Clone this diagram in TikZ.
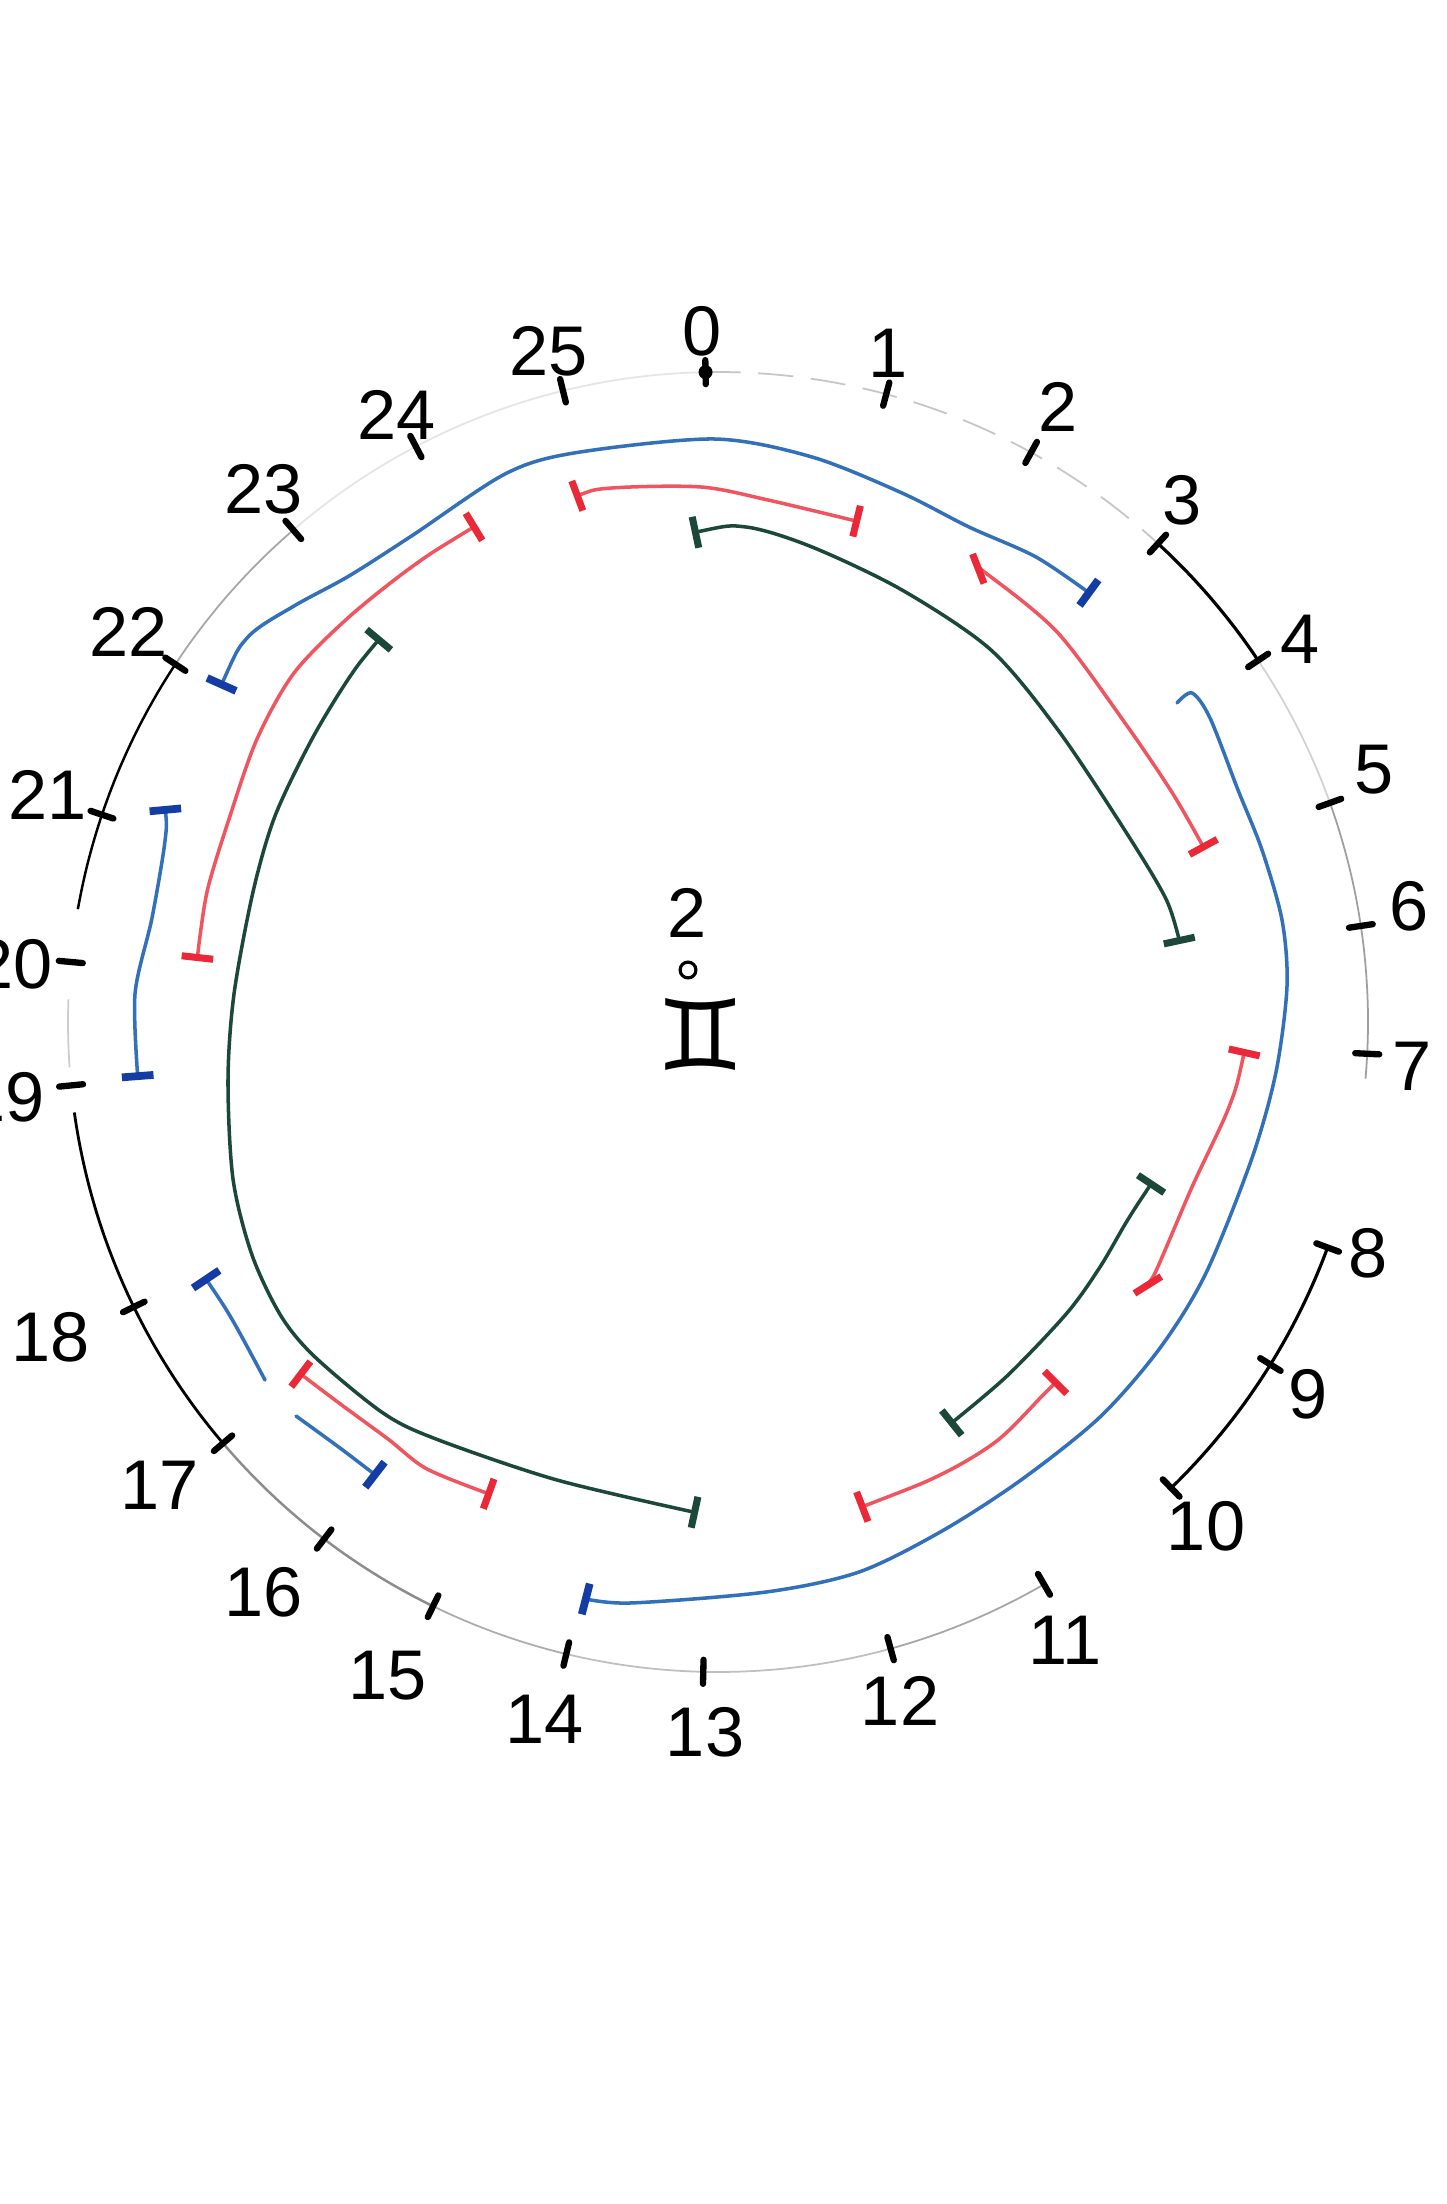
\documentclass[tikz,border=0pt]{standalone}
\usepackage{fontspec}
\setmainfont{Liberation Sans}
\newfontfamily\symfont{DejaVu Sans}
\usetikzlibrary{arrows.meta,calc}
\definecolor{bluepen}{RGB}{50,112,185}
\definecolor{bluetip}{RGB}{20,60,165}
\definecolor{redpen}{RGB}{240,85,95}
\definecolor{redtip}{RGB}{235,40,55}
\definecolor{greenpen}{RGB}{28,72,58}
\begin{document}
\begin{tikzpicture}[x=0.01cm,y=-0.01cm,
  lbl/.style={font=\fontsize{20}{24}\selectfont, inner sep=0pt},
  tickmark/.style={line width=1.8pt, line cap=round},
  pen/.style={line width=1pt, line cap=round, line join=round},
  bpen/.style={pen, bluepen, {Bar[width=9pt,line width=2.2pt,color=bluetip]}-{Bar[width=9pt,line width=2.2pt,color=bluetip]}},
  rpen/.style={pen, redpen, {Bar[width=9pt,line width=2pt,color=redtip]}-{Bar[width=9pt,line width=2pt,color=redtip]}},
  gpen/.style={pen, greenpen, {Bar[width=9pt,line width=2pt]}-{Bar[width=9pt,line width=2pt]}},
  ring/.style={line width=0.5pt, gray!60},
  ringdark/.style={line width=0.9pt, black}]
\useasboundingbox (0,0) rectangle (1446,2204);
\fill[white] (0,0) rectangle (1446,2204);
\coordinate (C) at (718,1022);

% outer ring segments
\draw[ring, gray!45, dash pattern=on 10pt off 5pt] plot[domain=-91.1:-47.4,samples=40,smooth] ({718+650*cos(\x)},{1022+650*sin(\x)});
\draw[ringdark] plot[domain=-47.4:-33.8,samples=20,smooth] ({718+650*cos(\x)},{1022+650*sin(\x)});
\draw[ring, gray!35] plot[domain=-33.8:-19.7,samples=20,smooth] ({718+650*cos(\x)},{1022+650*sin(\x)});
\draw[ring, gray!75] plot[domain=-19.7:5,samples=30,smooth] ({718+650*cos(\x)},{1022+650*sin(\x)});
\draw[ringdark] plot[domain=20.3:45.8,samples=30,smooth] ({718+650*cos(\x)},{1022+650*sin(\x)});
\draw[ring, gray!70] plot[domain=59.9:74.6,samples=20,smooth] ({718+650*cos(\x)},{1022+650*sin(\x)});
\draw[ring, gray!50] plot[domain=74.6:103.5,samples=30,smooth] ({718+650*cos(\x)},{1022+650*sin(\x)});
\draw[ring, gray!65] plot[domain=103.5:116,samples=20,smooth] ({718+650*cos(\x)},{1022+650*sin(\x)});
\draw[ring, gray!90, line width=0.7pt] plot[domain=116:139.6,samples=30,smooth] ({718+650*cos(\x)},{1022+650*sin(\x)});
\draw[ringdark, line width=0.8pt] plot[domain=139.6:172,samples=30,smooth] ({718+650*cos(\x)},{1022+650*sin(\x)});
\draw[ring, gray!40] plot[domain=176:182,samples=10,smooth] ({718+650*cos(\x)},{1022+650*sin(\x)});
\draw[ringdark, line width=0.7pt] plot[domain=190:213.4,samples=30,smooth] ({718+650*cos(\x)},{1022+650*sin(\x)});
\draw[ring, gray!70] plot[domain=213.4:229.2,samples=20,smooth] ({718+650*cos(\x)},{1022+650*sin(\x)});
\draw[ring, gray!20] plot[domain=229.2:268.9,samples=30,smooth] ({718+650*cos(\x)},{1022+650*sin(\x)});

% ticks
\foreach \n/\a in {0/-91.1,1/-75,2/-61.2,3/-47.4,4/-33.8,5/-19.7,6/-8.5,7/2.8,8/20.3,9/31.8,10/45.8,11/59.9,12/74.6,13/91.3,14/103.5,15/116,16/127.3,17/139.6,18/154,19/174.4,20/185.3,21/198.6,22/213.4,23/229.2,24/242.3,25/256.2}{
  \coordinate (t\n) at ($(C)+(\a:650)$);
  \draw[tickmark] ($(C)+(\a:638)$) -- ($(C)+(\a:662)$);
}
\fill (t0) circle (7);

% labels
\node[lbl] (l0) at (702,331) {0};
\node[lbl] (l1) at (888,353) {1};
\node[lbl] (l2) at (1058,407) {2};
\node[lbl] (l3) at (1182,500) {3};
\node[lbl] (l4) at (1300,639) {4};
\node[lbl] (l5) at (1374,770) {5};
\node[lbl] (l6) at (1409,906) {6};
\node[lbl] (l7) at (1412,1066) {7};
\node[lbl] (l8) at (1368,1253) {8};
\node[lbl] (l9) at (1308,1394) {9};
\node[lbl] (l10) at (1206,1526) {10};
\node[lbl] (l11) at (1065,1640) {11};
\node[lbl] (l12) at (900,1701) {12};
\node[lbl] (l13) at (705,1732) {13};
\node[lbl] (l14) at (545,1719) {14};
\node[lbl] (l15) at (388,1676) {15};
\node[lbl] (l16) at (264,1592) {16};
\node[lbl] (l17) at (160,1485) {17};
\node[lbl] (l18) at (51,1337) {18};
\node[lbl] (l19) at (6,1097) {19};
\node[lbl] (l20) at (14,964) {20};
\node[lbl] (l21) at (48,795) {21};
\node[lbl] (l22) at (129,632) {22};
\node[lbl] (l23) at (264,489) {23};
\node[lbl] (l24) at (397,415) {24};
\node[lbl] (l25) at (549,351) {25};

% centre
\node[lbl] (ctwo) at (687,913) {2};
\node[circle, draw, line width=0.9pt, inner sep=0pt, minimum size=4.5pt] (ccirc) at (688,970) {};
\node[inner sep=0pt, font=\symfont\fontsize{28}{30}\selectfont] (cgem) at (701,1034) {♊};

% blue
\draw[bpen] plot[smooth] coordinates {(220,688)(248,637)(294,606)(349,576)(413,535)(505,474)(574,453)(714,439)(812,457)(902,493)(969,527)(1036,557)(1092,595)};
\draw[pen, bluepen, -{Bar[width=9pt,line width=2.2pt,color=bluetip]}] plot[smooth] coordinates {(1177,703)(1192,693)(1210,718)(1238,790)(1262,850)(1282,920)(1287,986)(1276,1072)(1252,1158)(1206,1273)(1160,1348)(1100,1417)(1021,1480)(942,1531)(859,1572)(766,1592)(630,1603)(582,1598)};
\draw[bpen] plot[smooth] coordinates {(165,806)(165,841)(152,918)(135,994)(138,1080)};
\draw[pen, bluepen, {Bar[width=9pt,line width=2.2pt,color=bluetip]}-] plot[smooth] coordinates {(204,1276)(233,1321)(265,1380)};
\draw[pen, bluepen, -{Bar[width=9pt,line width=2.2pt,color=bluetip]}] plot[smooth] coordinates {(296,1416)(340,1448)(378,1477)};

% red
\draw[rpen] plot[smooth] coordinates {(574,497)(612,488)(701,487)(768,500)(860,522)};
\draw[rpen] plot[smooth] coordinates {(975,570)(991,577)(1058,633)(1125,723)(1173,794)(1205,850)};
\draw[rpen] plot[smooth] coordinates {(477,525)(413,566)(349,617)(294,673)(257,739)(230,816)(207,892)(197,961)};
\draw[rpen] plot[smooth] coordinates {(1245,1049)(1229,1107)(1192,1187)(1155,1273)(1146,1282)};
\draw[rpen] plot[smooth] coordinates {(859,1508)(942,1474)(998,1440)(1044,1394)(1058,1380)};
\draw[rpen] plot[smooth] coordinates {(298,1372)(339,1403)(388,1439)(427,1469)(492,1495)};

% green
\draw[gpen] plot[smooth] coordinates {(692,533)(746,527)(812,547)(902,590)(991,650)(1058,730)(1124,829)(1166,899)(1180,944)};
\draw[gpen] plot[smooth] coordinates {(381,637)(349,678)(312,739)(275,816)(253,892)(234,994)(228,1080)(233,1179)(252,1255)(281,1316)(315,1357)(383,1413)(436,1439)(557,1480)(698,1513)};
\draw[gpen] plot[smooth] coordinates {(1153,1181)(1127,1221)(1100,1267)(1067,1313)(1007,1376)(949,1425)};
\end{tikzpicture}
\end{document}
